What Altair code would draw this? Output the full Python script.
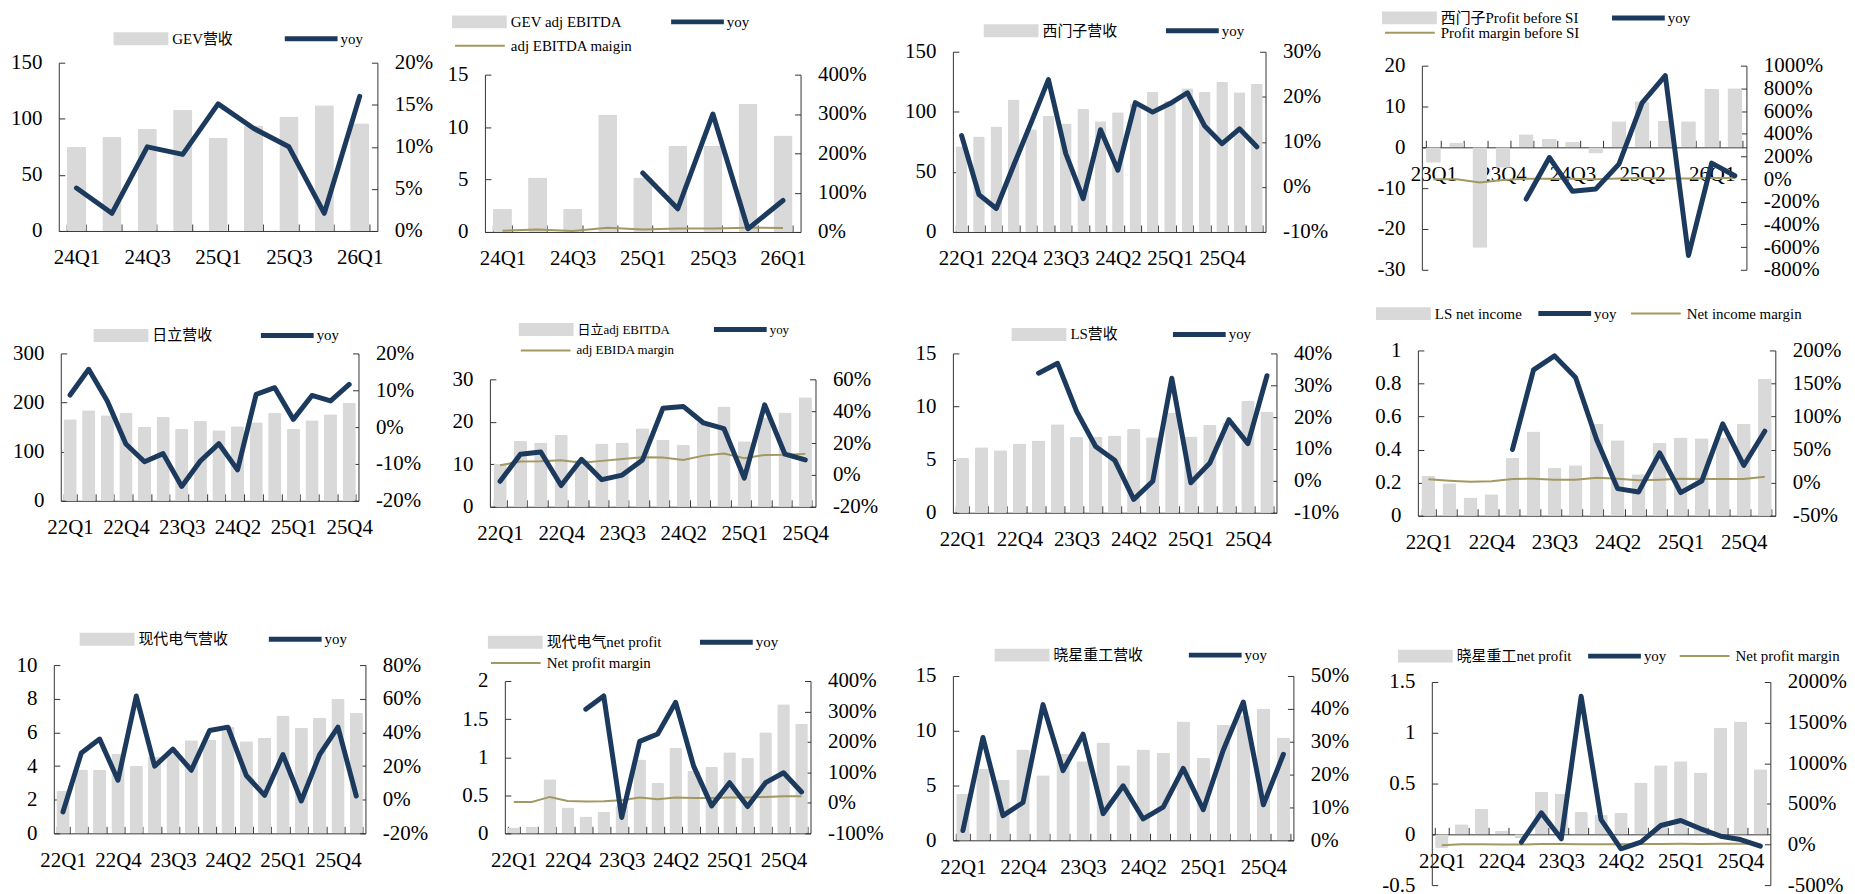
import altair as alt
import pandas as pd

# ---------------- categories ----------------
ALLQ = ['22Q1', '22Q2', '22Q3', '22Q4', '23Q1', '23Q2', '23Q3', '23Q4',
        '24Q1', '24Q2', '24Q3', '24Q4', '25Q1', '25Q2', '25Q3', '25Q4', '26Q1', '26Q2']
Q_24Q1_26Q1 = ALLQ[8:17]
Q_22Q1_26Q2 = ALLQ[0:18]
Q_23Q1_26Q2 = ALLQ[4:18]
Q_22Q1_25Q4 = ALLQ[0:16]
Q_22Q1_26Q1 = ALLQ[0:17]

SHOW_2 = ['24Q1', '24Q3', '25Q1', '25Q3', '26Q1']
SHOW_3 = ['22Q1', '22Q4', '23Q3', '24Q2', '25Q1', '25Q4']
SHOW_4 = ['23Q1', '23Q4', '24Q3', '25Q2', '26Q1']

# ---------------- values ----------------
gev_rev = [75, 84, 91, 108, 83, 94, 102, 112, 96]
gev_rev_yoy = [5.1, 2.1, 10.0, 9.1, 15.1, 12.2, 10.0, 2.1, 16.0]

gev_ebitda = [2.2, 5.2, 2.2, 11.2, 5.2, 8.2, 8.2, 12.2, 9.2]
gev_ebitda_yoy = [None, None, None, None, 150, 59, 300, 8, 80]
gev_ebitda_margin = [3, 6, 2.5, 10.5, 6.5, 8.5, 8.5, 11, 9.8]

siemens_rev = [71.4, 79.4, 87.7, 110.2, 85.5, 96.6, 90.2, 102.4, 92.2, 99.6, 107,
               116.8, 109, 119.6, 116.8, 125.1, 116.2, 123.4]
siemens_rev_yoy = [11.4, -1.7, -4.8, 4.8, 14.2, 23.8, 7.4, -2.6, 12.7, 3.7, 18.7,
                   16.6, 18.5, 20.9, 13.5, 9.6, 12.9, 8.9]

siemens_pbsi = [-3.8, 1.2, -24.6, -5, 3.2, 2.1, 1.3, -1.5, 6.4, 11.3, 6.6, 6.4, 14.3, 14.5]
siemens_pbsi_yoy = [None, None, None, None, -176, 190, -108, -88, 132, 673, 913, -674, 141, 29]
siemens_pbsi_margin = [-2, -1, -30, -9, 4, 3, 2, -1, 6, 9, 6, 5, 10, 10]

hitachi_rev = [165.9, 184.2, 174, 179.4, 150.3, 170.6, 146.9, 163.2, 143.5, 151.7,
               159.8, 179.4, 146.9, 163.8, 176, 199.7]
hitachi_rev_yoy = [8.7, 15.7, 7.1, -4.6, -9.4, -7.2, -16.1, -9.2, -4.5, -11.6, 8.9,
                   10.7, 2.1, 8.6, 7.1, 11.6]

hitachi_ebitda = [10.1, 15.5, 15.1, 16.9, 11.1, 14.9, 15.1, 18.5, 15.8, 14.6, 20.0,
                  23.6, 15.4, 21.0, 22.2, 25.8]
hitachi_ebitda_yoy = [-4, 13, 14.4, -6.7, 9.8, -3, -0.1, 9.4, 41.8, 43, 32.6, 29.1,
                      -2, 44, 13, 9.4]
hitachi_ebitda_margin = [6.1, 8.4, 8.6, 9.2, 7.6, 8.8, 10, 11.1, 10.9, 9.4, 12.1, 13.4,
                         10.5, 12.5, 12.7, 13.2]

ls_rev = [5.16, 6.16, 5.88, 6.53, 6.81, 8.34, 7.13, 7.19, 7.28, 7.9, 7.1, 9.44, 7.19,
          8.28, 8.46, 10.53, 9.53]
ls_rev_yoy = [None, None, None, None, 33.8, 36.9, 21.8, 10.8, 6.5, -5.8, -0.1, 32.2,
              -0.6, 5.6, 19.2, 11.7, 33]

ls_ni = [0.241, 0.197, 0.11, 0.13, 0.351, 0.51, 0.291, 0.305, 0.556, 0.456, 0.251,
         0.442, 0.474, 0.468, 0.474, 0.556, 0.827]
ls_ni_yoy = [None, None, None, None, 50.2, 170.7, 191.8, 159, 65.3, -9, -14, 45, -15,
             2.5, 88.9, 26, 77.8]
ls_ni_margin = [5, 3, 1.5, 2, 5.5, 6, 4.5, 4.5, 7.5, 6, 3.5, 4.5, 6, 5.5, 5.5, 5.5, 9]

hd_rev = [2.52, 3.8, 3.76, 4.72, 4.0, 4.56, 4.89, 5.53, 5.57, 6.32, 5.47, 5.67, 7.0,
          6.28, 6.87, 7.99, 7.15]
hd_rev_yoy = [-7.3, 27.8, 36, 11.6, 61.6, 19.9, 30.1, 17.5, 41.1, 43.1, 14.4, 2.6,
              26.8, -0.8, 26.8, 43.1, 2.2]

hd_np = [0.078, 0.091, 0.709, 0.339, 0.222, 0.283, 0.37, 0.97, 0.665, 1.122, 0.817,
         0.87, 1.065, 0.991, 1.326, 1.696, 1.439]
hd_np_yoy = [None, None, None, None, 307.6, 351, -47.8, 202, 226, 330, 120.7, -9.8,
             66.3, -12, 66.3, 99, 35.9]
hd_np_margin = [3, 3, 19.6, 6.5, 4.3, 5.4, 8.7, 17.4, 12, 17.4, 16.3, 16.3, 17.4, 17.4,
                19.6, 21.7, 21.7]

hyo_rev = [4.24, 6.52, 5.52, 8.3, 5.94, 7.9, 7.21, 8.94, 6.85, 8.3, 8.0, 10.85, 7.52,
           10.55, 11.4, 12.03, 9.39]
hyo_rev_yoy = [3, 31.3, 7.5, 11.5, 41.3, 21.2, 32.3, 8.1, 16.6, 6.5, 10.1, 21.9, 9.3,
               27.5, 42.1, 10.8, 26.2]

hyo_np = [-0.135, 0.1, 0.25, 0.035, -0.04, 0.42, 0.4, 0.22, 0.19, 0.21, 0.51, 0.68,
          0.72, 0.61, 1.05, 1.11, 0.64]
hyo_np_yoy = [None, None, None, None, 29, 389, 70, 1824, 307, -53, 29, 234, 295, 193,
              102, 61, -20]
hyo_np_margin = [-8, 2, 4, 1, -1, 6, 6, 3, 3, 3, 6, 7, 8, 7, 9, 9, 7]

# ---------------- styling ----------------
FONT = "Liberation Serif, Noto Sans CJK SC, serif"
GREY = '#d9d9d9'
NAVY = '#1c3a5e'
OLIVE = '#a39862'
AX = '#333333'
W, H = 1839, 878          # whole drawing area (page minus the 8px margin)
M = 8                     # page margin
BAR_HALF = 27.5
BAR_PATH = 'M-27.5,-6.5H27.5V6.5H-27.5Z'
YOY_HALF = 26.5
YOY_PATH = 'M-26.5,0H26.5'
MAR_HALF = 25
MAR_PATH = 'M-25,0H25'

panels = [
    dict(cats=Q_24Q1_26Q1, bars=gev_rev, yoy=gev_rev_yoy, margin=None,
         bname='GEV营收', mname=None, show=SHOW_2,
         ldom=[0, 150], lvals=[0, 50, 100, 150], rdom=[0, 20], rvals=[0, 5, 10, 15, 20],
         rect=(59, 60, 320, 169), pin=0.46, fs=15,
         leg=dict(bar=(114, 36), yoy=(286, 36))),
    dict(cats=Q_24Q1_26Q1, bars=gev_ebitda, yoy=gev_ebitda_yoy, margin=gev_ebitda_margin,
         bname='GEV adj EBITDA', mname='adj EBITDA maigin', show=SHOW_2,
         ldom=[0, 15], lvals=[0, 5, 10, 15], rdom=[0, 400], rvals=[0, 100, 200, 300, 400],
         rect=(487, 72, 317, 158), pin=0.46, fs=15,
         leg=dict(bar=(454, 19), yoy=(674, 19), mar=(457, 43))),
    dict(cats=Q_22Q1_26Q2, bars=siemens_rev, yoy=siemens_rev_yoy, margin=None,
         bname='西门子营收', mname=None, show=SHOW_3,
         ldom=[0, 150], lvals=[0, 50, 100, 150], rdom=[-10, 30], rvals=[-10, 0, 10, 20, 30],
         rect=(957, 49, 314, 181), pin=0.33, fs=15,
         leg=dict(bar=(988, 28), yoy=(1171, 28))),
    dict(cats=Q_23Q1_26Q2, bars=siemens_pbsi, yoy=siemens_pbsi_yoy, margin=siemens_pbsi_margin,
         bname='西门子Profit before SI', mname='Profit margin before SI', show=SHOW_4,
         ldom=[-30, 20], lvals=[-30, -20, -10, 0, 10, 20], rdom=[-800, 1000],
         rvals=[-800, -600, -400, -200, 0, 200, 400, 600, 800, 1000],
         rect=(1428, 63, 326, 205), pin=0.36, fs=15,
         leg=dict(bar=(1388, 15), yoy=(1619, 15), mar=(1391, 30))),
    dict(cats=Q_22Q1_25Q4, bars=hitachi_rev, yoy=hitachi_rev_yoy, margin=None,
         bname='日立营收', mname=None, show=SHOW_3,
         ldom=[0, 300], lvals=[0, 100, 200, 300], rdom=[-20, 20], rvals=[-20, -10, 0, 10, 20],
         rect=(61, 352, 299, 148), pin=0.29, fs=15,
         leg=dict(bar=(94, 334), yoy=(262, 334))),
    dict(cats=Q_22Q1_25Q4, bars=hitachi_ebitda, yoy=hitachi_ebitda_yoy, margin=hitachi_ebitda_margin,
         bname='日立adj EBITDA', mname='adj EBIDA margin', show=SHOW_3,
         ldom=[0, 30], lvals=[0, 10, 20, 30], rdom=[-20, 60], rvals=[-20, 0, 20, 40, 60],
         rect=(492, 378, 327, 128), pin=0.35, fs=13,
         leg=dict(bar=(521, 328), yoy=(717, 328), mar=(523, 349))),
    dict(cats=Q_22Q1_26Q1, bars=ls_rev, yoy=ls_rev_yoy, margin=None,
         bname='LS营收', mname=None, show=SHOW_3,
         ldom=[0, 15], lvals=[0, 5, 10, 15], rdom=[-10, 40], rvals=[-10, 0, 10, 20, 30, 40],
         rect=(957, 352, 325, 160), pin=0.30, fs=15,
         leg=dict(bar=(1016, 333), yoy=(1178, 333))),
    dict(cats=Q_22Q1_26Q1, bars=ls_ni, yoy=ls_ni_yoy, margin=ls_ni_margin,
         bname='LS net income', mname='Net income margin', show=SHOW_3,
         ldom=[0, 1], lvals=[0, 0.2, 0.4, 0.6, 0.8, 1], rdom=[-50, 200],
         rvals=[-50, 0, 50, 100, 150, 200],
         rect=(1424, 349, 359, 166), pin=0.34, fs=15,
         leg=dict(bar=(1382, 312), yoy=(1545, 312), mar=(1638, 312))),
    dict(cats=Q_22Q1_26Q1, bars=hd_rev, yoy=hd_rev_yoy, margin=None,
         bname='现代电气营收', mname=None, show=SHOW_3,
         ldom=[0, 10], lvals=[0, 2, 4, 6, 8, 10], rdom=[-20, 80], rvals=[-20, 0, 20, 40, 60, 80],
         rect=(54, 665, 313, 169), pin=0.28, fs=15,
         leg=dict(bar=(80, 639), yoy=(270, 639))),
    dict(cats=Q_22Q1_26Q1, bars=hd_np, yoy=hd_np_yoy, margin=hd_np_margin,
         bname='现代电气net profit', mname='Net profit margin', show=SHOW_3,
         ldom=[0, 2], lvals=[0, 0.5, 1, 1.5, 2], rdom=[-100, 400],
         rvals=[-100, 0, 100, 200, 300, 400],
         rect=(507, 681, 307, 153), pin=0.30, fs=15,
         leg=dict(bar=(490, 642), yoy=(703, 642), mar=(493, 663))),
    dict(cats=Q_22Q1_26Q1, bars=hyo_rev, yoy=hyo_rev_yoy, margin=None,
         bname='晓星重工营收', mname=None, show=SHOW_3,
         ldom=[0, 15], lvals=[0, 5, 10, 15], rdom=[0, 50], rvals=[0, 10, 20, 30, 40, 50],
         rect=(957, 676, 342, 165), pin=0.33, fs=15,
         leg=dict(bar=(999, 655), yoy=(1194, 655))),
    dict(cats=Q_22Q1_26Q1, bars=hyo_np, yoy=hyo_np_yoy, margin=hyo_np_margin,
         bname='晓星重工net profit', mname='Net profit margin', show=SHOW_3,
         ldom=[-0.5, 1.5], lvals=[-0.5, 0, 0.5, 1, 1.5], rdom=[-500, 2000],
         rvals=[-500, 0, 500, 1000, 1500, 2000],
         rect=(1438, 682, 340, 204), pin=0.33, fs=15,
         leg=dict(bar=(1404, 656), yoy=(1595, 656), mar=(1687, 656))),
]


def legend(pos, half, path, sw, fs, gap):
    sl, cy = pos
    return alt.Legend(orient='none', legendX=sl - M + half - fs / 2, legendY=cy - M - fs / 2,
                      title=None, symbolType=path, symbolSize=4, symbolStrokeWidth=sw,
                      labelFontSize=fs, labelOffset=half + gap - fs / 2, labelLimit=400,
                      padding=0)


def make_panel(p):
    cats = p['cats']
    n = len(cats)
    px, py, w, h = p['rect']
    x0, x1 = px - M, px + w - M
    ytop, ybot = py - M, py + h - M
    margin = p['margin']
    df = pd.DataFrame({
        'q': cats, 'v': p['bars'], 'yoy': p['yoy'],
        'm': margin if margin is not None else [None] * n,
        'bn': [p['bname']] * n, 'yn': ['yoy'] * n,
        'mn': [p['mname'] or ''] * n,
    })
    lmin, lmax = p['ldom']
    xline = ybot
    if lmin < 0:
        xline = ytop + h * lmax / (lmax - lmin)
    shown = "[" + ",".join("'%s'" % s for s in p['show']) + "]"
    xscale = alt.Scale(type='band', range=[x0, x1], paddingInner=p['pin'],
                       paddingOuter=p['pin'] / 2)
    lscale = alt.Scale(domain=p['ldom'], nice=False, range=[ybot, ytop])
    rscale = alt.Scale(domain=p['rdom'], nice=False, range=[ybot, ytop])

    # axis with labels + domain line (ticks drawn inward by the tick-only axes below)
    x_lab = alt.X('q:N', sort=cats, scale=xscale,
                  axis=alt.Axis(orient='bottom', title=None, labelAngle=0, tickBand='extent',
                                labelOverlap=False, tickSize=0, labelPadding=16,
                                labelExpr="indexof(%s, datum.value) >= 0 ? datum.value : ''" % shown,
                                offset=xline - H, domainColor=AX))
    x_plain = alt.X('q:N', sort=cats, scale=xscale, axis=None)
    x_ticks = alt.X('q:N', sort=cats, scale=xscale,
                    axis=alt.Axis(orient='top', title=None, tickBand='extent', labels=False,
                                  domain=False, tickSize=7, tickColor=AX, offset=-xline))

    base = alt.Chart(df)
    fs = p['fs']
    bar = base.mark_bar(cornerRadius=1.5).encode(
        x=x_lab,
        y=alt.Y('v:Q', scale=lscale,
                axis=alt.Axis(orient='left', title=None, values=p['lvals'], grid=False,
                              labelExpr="'' + datum.value", tickSize=0, labelPadding=17,
                              offset=-x0, domainColor=AX)),
        fill=alt.Fill('bn:N', scale=alt.Scale(domain=[p['bname']], range=[GREY]),
                      legend=legend(p['leg']['bar'], BAR_HALF, BAR_PATH, 0, fs, 4)),
    )
    yoy = base.mark_line(strokeWidth=5, strokeCap='round', strokeJoin='round').encode(
        x=x_plain,
        y=alt.Y('yoy:Q', scale=rscale,
                axis=alt.Axis(orient='right', title=None, values=p['rvals'], grid=False,
                              labelExpr="datum.value + '%'", tickSize=0, labelPadding=17,
                              offset=x1 - W, domainColor=AX)),
        stroke=alt.Stroke('yn:N', scale=alt.Scale(domain=['yoy'], range=[NAVY]),
                          legend=legend(p['leg']['yoy'], YOY_HALF, YOY_PATH, 5, fs, 3)),
    )
    # tick-only axes pointing into the plot
    ticks_left = base.mark_point(opacity=0).encode(
        x=x_ticks,
        y=alt.Y('v:Q', scale=lscale,
                axis=alt.Axis(orient='right', title=None, values=p['lvals'], labels=False,
                              domain=False, grid=False, tickSize=6, tickColor=AX,
                              offset=x0 - W)),
    )
    ticks_right = base.mark_point(opacity=0).encode(
        x=x_plain,
        y=alt.Y('yoy:Q', scale=rscale,
                axis=alt.Axis(orient='left', title=None, values=p['rvals'], labels=False,
                              domain=False, grid=False, tickSize=6, tickColor=AX,
                              offset=-x1)),
    )
    layers = [bar]
    if margin is not None:
        mar = base.mark_line(strokeWidth=2).encode(
            x=x_plain,
            y=alt.Y('m:Q', scale=rscale, axis=None),
            stroke=alt.Stroke('mn:N', scale=alt.Scale(domain=[p['mname']], range=[OLIVE]),
                              legend=legend(p['leg']['mar'], MAR_HALF, MAR_PATH, 2, fs, 6)),
        )
        layers.append(mar)
    layers += [yoy, ticks_left, ticks_right]
    return alt.layer(*layers).resolve_scale(
        y='independent', stroke='independent'
    ).resolve_axis(x='independent', y='independent')


chart = alt.layer(*[make_panel(p) for p in panels]).resolve_scale(
    x='independent', y='independent', fill='independent', stroke='independent'
).properties(
    width=W, height=H, padding=0
).configure_view(stroke=None).configure_axis(
    labelFont=FONT, labelFontSize=21, labelColor='black', grid=False
).configure_legend(
    labelFont=FONT, labelColor='black'
)

chart.save('out.html', embed_options={'renderer': 'svg', 'actions': False})
